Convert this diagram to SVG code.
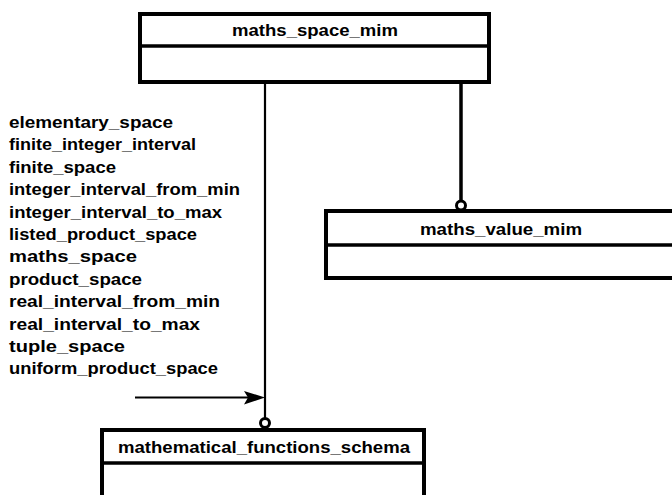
<svg xmlns="http://www.w3.org/2000/svg" width="672" height="495" viewBox="0 0 672 495">
<style>
.box{fill:#fff;stroke:#000;stroke-width:4}
.div{stroke:#000;stroke-width:3.5}
.t{font-family:"Liberation Sans",Arial,sans-serif;font-weight:bold;font-size:16px;fill:#000}
.c{stroke:#000;fill:none}
.o{fill:#fff;stroke:#000;stroke-width:3}
</style>
<rect width="672" height="495" fill="#fff"/>
<g id="connectors">
<line class="c" x1="265" y1="82" x2="265" y2="418" stroke-width="2.2"/>
<circle class="o" cx="265" cy="423" r="4.5"/>
<line class="c" x1="461" y1="82" x2="461" y2="200" stroke-width="3.5"/>
<circle class="o" cx="461" cy="205.5" r="4.5"/>
<line class="c" x1="135" y1="397.5" x2="250" y2="397.5" stroke-width="2"/>
<polygon points="265,397.5 244,391 248,397.5 244,404.5" fill="#000"/>
</g>
<g id="labels">
<text class="t" x="9" y="128" textLength="164" lengthAdjust="spacingAndGlyphs">elementary_space</text>
<text class="t" x="9" y="150.4" textLength="187" lengthAdjust="spacingAndGlyphs">finite_integer_interval</text>
<text class="t" x="9" y="172.8" textLength="107" lengthAdjust="spacingAndGlyphs">finite_space</text>
<text class="t" x="9" y="195.2" textLength="231" lengthAdjust="spacingAndGlyphs">integer_interval_from_min</text>
<text class="t" x="9" y="217.6" textLength="213" lengthAdjust="spacingAndGlyphs">integer_interval_to_max</text>
<text class="t" x="9" y="240" textLength="188" lengthAdjust="spacingAndGlyphs">listed_product_space</text>
<text class="t" x="9" y="262.4" textLength="128" lengthAdjust="spacingAndGlyphs">maths_space</text>
<text class="t" x="9" y="284.8" textLength="133" lengthAdjust="spacingAndGlyphs">product_space</text>
<text class="t" x="9" y="307.2" textLength="211" lengthAdjust="spacingAndGlyphs">real_interval_from_min</text>
<text class="t" x="9" y="329.6" textLength="191" lengthAdjust="spacingAndGlyphs">real_interval_to_max</text>
<text class="t" x="9" y="352" textLength="116" lengthAdjust="spacingAndGlyphs">tuple_space</text>
<text class="t" x="9" y="374.4" textLength="209" lengthAdjust="spacingAndGlyphs">uniform_product_space</text>
</g>
<g id="maths_space_mim">
<rect class="box" x="140" y="14" width="349" height="68"/>
<line class="div" x1="140" y1="46" x2="489" y2="46"/>
<text class="t" x="232" y="35.5" textLength="166" lengthAdjust="spacingAndGlyphs">maths_space_mim</text>
</g>
<g id="maths_value_mim">
<rect class="box" x="326" y="211" width="360" height="67"/>
<line class="div" x1="326" y1="245" x2="686" y2="245"/>
<text class="t" x="420" y="234.5" textLength="162" lengthAdjust="spacingAndGlyphs">maths_value_mim</text>
</g>
<g id="mathematical_functions_schema">
<rect class="box" x="102" y="430" width="322" height="80"/>
<line class="div" x1="102" y1="463" x2="424" y2="463"/>
<text class="t" x="118" y="453" textLength="292" lengthAdjust="spacingAndGlyphs">mathematical_functions_schema</text>
</g>
</svg>
